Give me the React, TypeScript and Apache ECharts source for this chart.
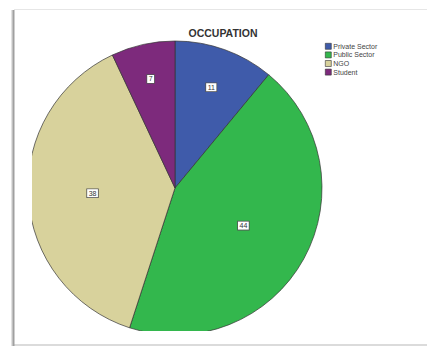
import React, { useEffect, useRef } from "react";
import * as echarts from "echarts";

const categories = ["Private Sector", "Public Sector", "NGO", "Student"];
const values = [11, 44, 38, 7];
const colors = ["#3F5BAA", "#33B74D", "#D8D29C", "#7D2A7C"];
const labelRadii = [0.7, 0.51, 0.54, 0.73];
const titleText = "OCCUPATION";

const CX = 175;
const CY = 188;
const R = 147;

export default function App() {
  const ref = useRef<HTMLDivElement>(null);
  useEffect(() => {
    if (!ref.current) return;
    const chart = echarts.init(ref.current, null, { renderer: "svg" });
    chart.setOption({
      animation: false,
      backgroundColor: "#ffffff",
      title: {
        text: titleText,
        left: 223,
        top: 27,
        padding: 0,
        textAlign: "center",
        textStyle: {
          fontFamily: "Liberation Sans, Arial, sans-serif",
          fontSize: 10.5,
          fontWeight: "bold",
          color: "#333333",
        },
      },
      legend: {
        orient: "vertical",
        left: 325,
        top: 42,
        padding: 0,
        itemWidth: 6,
        itemHeight: 6,
        itemGap: 0,
        icon: "rect",
        selectedMode: false,
        data: categories,
        itemStyle: { borderColor: "#333333", borderWidth: 0.6 },
        textStyle: {
          fontFamily: "Liberation Sans, Arial, sans-serif",
          fontSize: 7,
          lineHeight: 8.6,
          color: "#444444",
          padding: [0, 0, 0, -3],
        },
      },
      series: [
        {
          type: "pie",
          center: [CX, CY],
          radius: R,
          startAngle: 90,
          clockwise: true,
          avoidLabelOverlap: false,
          data: categories.map((c, i) => ({
            name: c,
            value: values[i],
            itemStyle: { color: colors[i] },
          })),
          itemStyle: { borderColor: "#333333", borderWidth: 0.7 },
          label: {
            show: true,
            position: "inside",
            formatter: "{c}",
            fontFamily: "Liberation Sans, Arial, sans-serif",
            fontSize: 7,
            color: "#333333",
            backgroundColor: "#ffffff",
            borderColor: "#555555",
            borderWidth: 0.8,
            padding: [1, 1.5, 0, 1.5],
          },
          labelLine: { show: false },
          labelLayout: (p: any) => {
            const r = p.labelRect;
            const lx = r.x + r.width / 2;
            const ly = r.y + r.height / 2;
            const k = labelRadii[p.dataIndex] / 0.5 - 1;
            return { dx: (lx - CX) * k, dy: (ly - CY) * k };
          },
          emphasis: { disabled: true },
        },
      ],
      graphic: [
        {
          type: "rect",
          z: 100,
          shape: { x: 0, y: 0, width: 32, height: 347 },
          style: { fill: "#ffffff" },
        },
        {
          type: "rect",
          z: 100,
          shape: { x: 0, y: 331, width: 427, height: 16 },
          style: { fill: "#ffffff" },
        },
        {
          type: "rect",
          z: 101,
          shape: { x: 11, y: 10, width: 2, height: 336 },
          style: { fill: "#e2e2e2" },
        },
        {
          type: "rect",
          z: 102,
          shape: { x: 12.5, y: 10, width: 2, height: 336 },
          style: { fill: "#a0a0a0" },
        },
        {
          type: "line",
          z: 101,
          shape: { x1: 14, y1: 9.5, x2: 427, y2: 9.5 },
          style: { stroke: "#e6e6e6", lineWidth: 1 },
        },
        {
          type: "line",
          z: 101,
          shape: { x1: 14, y1: 345, x2: 427, y2: 345 },
          style: { stroke: "#cfcfcf", lineWidth: 1.5 },
        },
      ],
    });
    return () => chart.dispose();
  }, []);
  return (
    <div
      ref={ref}
      style={{ position: "fixed", left: 0, top: 0, width: 427, height: 347 }}
    />
  );
}
